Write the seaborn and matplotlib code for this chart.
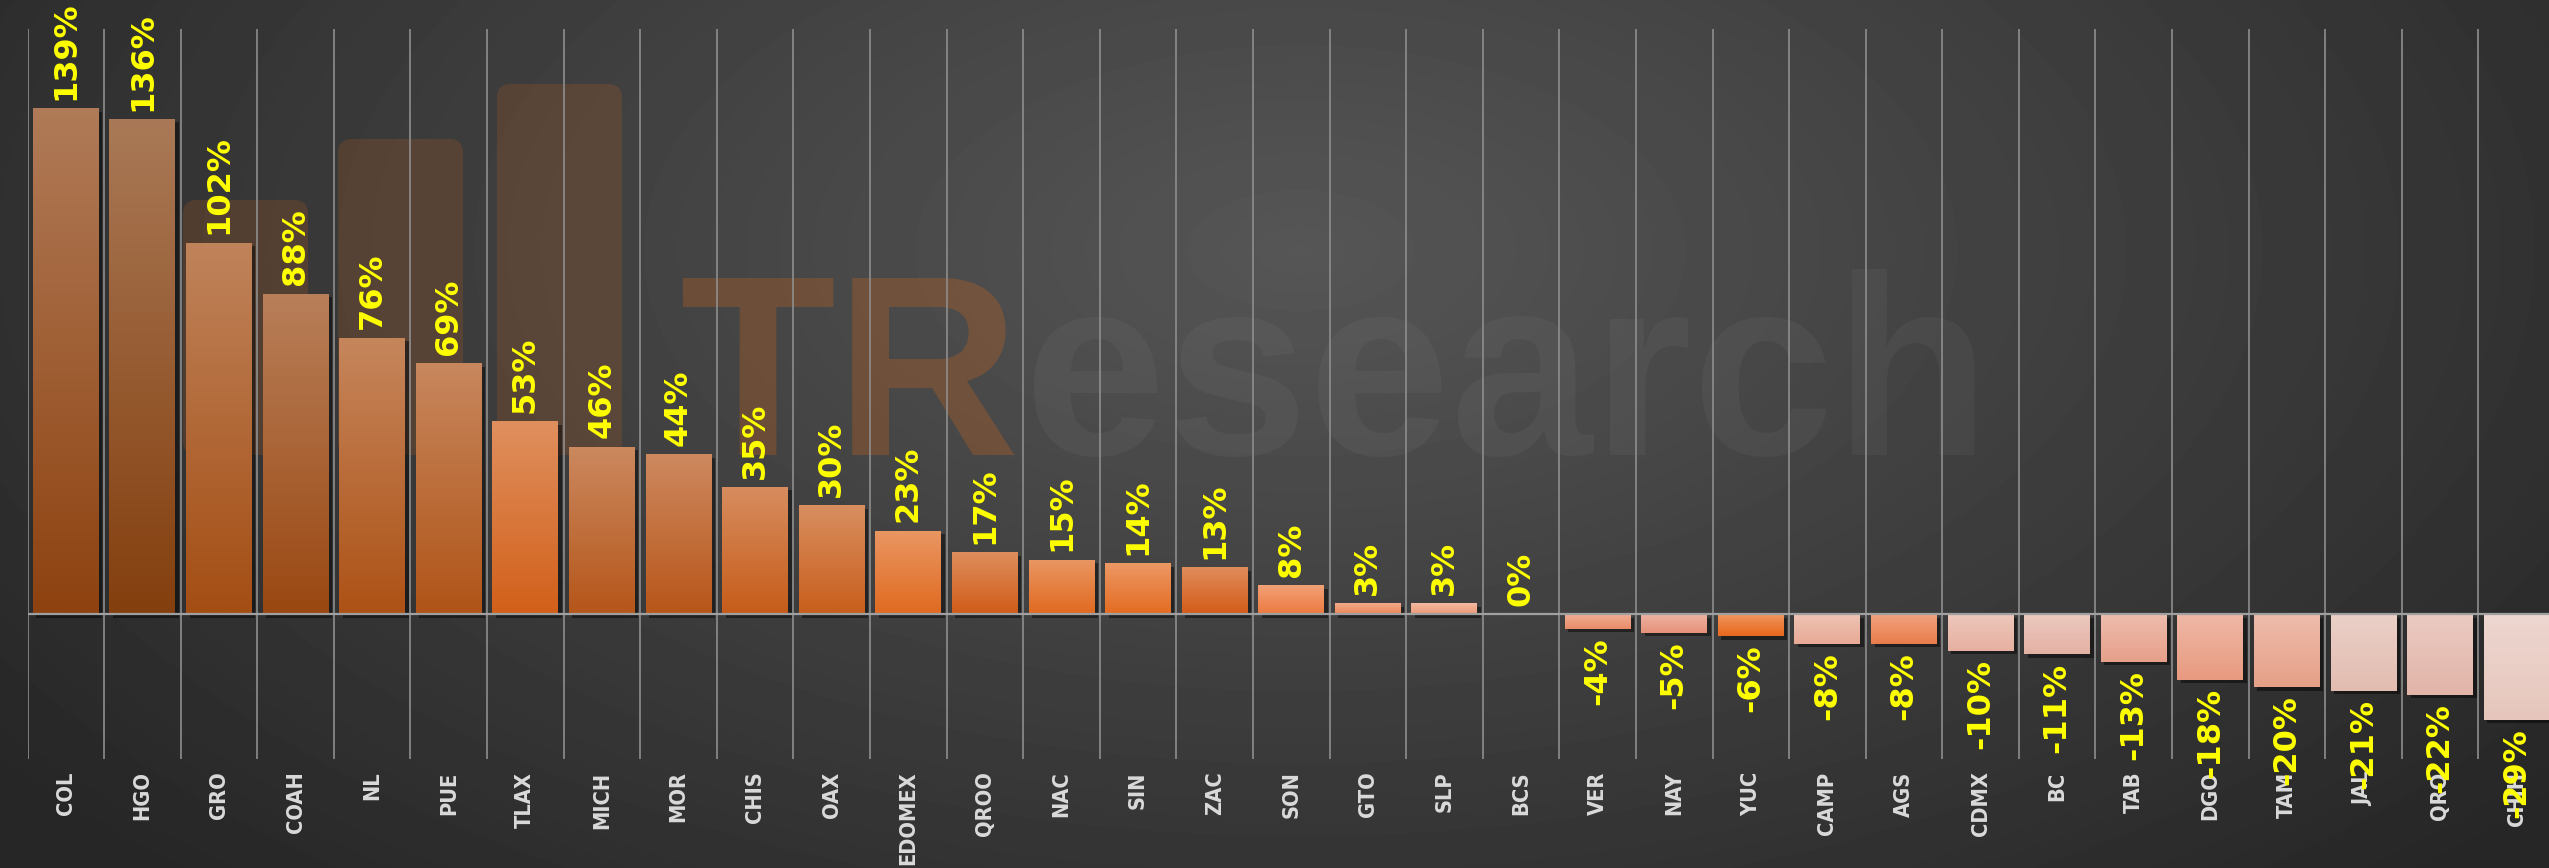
import numpy as np
import matplotlib
matplotlib.use("Agg")
import matplotlib.pyplot as plt
import matplotlib.patheffects as pe
from matplotlib import font_manager as fm
from matplotlib.colors import to_rgb
from matplotlib.patches import FancyBboxPatch
import seaborn as sns

# datos por estado (variacion %)
states = ["COL", "HGO", "GRO", "COAH", "NL", "PUE", "TLAX", "MICH", "MOR", "CHIS", "OAX",
          "EDOMEX", "QROO", "NAC", "SIN", "ZAC", "SON", "GTO", "SLP", "BCS", "VER", "NAY",
          "YUC", "CAMP", "AGS", "CDMX", "BC", "TAB", "DGO", "TAM", "JAL", "QRO", "CHIH"]
values = [139, 136, 102, 88, 76, 69, 53, 46, 44, 35, 30, 23, 17, 15, 14, 13, 8, 3, 3, 0,
          -4, -5, -6, -8, -8, -10, -11, -13, -18, -20, -21, -22, -29]

bar_colors = ["#8e4210", "#843f0e", "#a44e14", "#9a4812", "#ad5216", "#b05418", "#d2601a",
              "#b5561a", "#b8561a", "#c65c1a", "#c85e1c", "#e06a20", "#d05c18", "#e06a20",
              "#e46c22", "#d35c18", "#ec7a40", "#ec8658", "#ee9a78", "#ee9a78", "#ea8c68",
              "#e6927a", "#e8681a", "#e8aa95", "#ea7c4a", "#e6b0a0", "#e4b2a4", "#e6a08a",
              "#e89a80", "#e6a088", "#e2bcb0", "#e2b4a8", "#e6c6bc"]

W, H = 2549, 868
plt.rcParams["font.family"] = ["DejaVu Sans"]

# fuente angosta para los estados, si existe
tick_font = fm.FontProperties(family="DejaVu Sans", stretch="condensed", weight="bold", size=19)
if "ondensed" not in fm.findfont(tick_font):
    names = sorted({f.name for f in fm.fontManager.ttflist if "Narrow" in f.name or "Condensed" in f.name})
    if names:
        tick_font = fm.FontProperties(family=names[0], weight="bold", size=19)
    else:
        tick_font = fm.FontProperties(family="DejaVu Sans", weight="bold", size=19)

fig = plt.figure(figsize=(W / 100, H / 100), dpi=100)

# fondo gris con degradado radial + marca de agua
bg = fig.add_axes([0, 0, 1, 1], zorder=0)
yy, xx = np.mgrid[0:H, 0:W]
r = np.sqrt(((xx - 1300) / 1500) ** 2 + ((yy - 250) / 800) ** 2)
shade = np.clip(86 - 44 * r, 38, 86) / 255
bg.imshow(shade, cmap="gray", vmin=0, vmax=1, extent=(0, W, H, 0), aspect="auto")
for x0, y0 in [(183, 200), (338, 139), (497, 84)]:
    bg.add_patch(FancyBboxPatch((x0, y0), 125, 455 - y0, boxstyle="round,pad=0,rounding_size=14",
                                fc="#c8641e", ec="none", alpha=0.2))
bg.text(679, 455, "TR", fontsize=184, fontweight="bold", family=["Liberation Sans", "DejaVu Sans"],
        color="#c8641e", alpha=0.3, va="baseline", ha="left")
bg.text(1024, 455, "esearch", fontsize=184, fontweight="bold", family=["Liberation Sans", "DejaVu Sans"],
        color="white", alpha=0.04, va="baseline", ha="left")
bg.set_xlim(0, W)
bg.set_ylim(H, 0)
bg.axis("off")

ax = fig.add_axes([27.5 / W, (H - 759) / H, (2555 - 27.5) / W, (759 - 29) / H], zorder=1)
ax.patch.set_alpha(0)

sns.barplot(x=states, y=values, hue=states, palette=bar_colors, legend=False,
            width=0.86, saturation=1, ax=ax, zorder=2)

# degradado vertical en cada barra
t = np.linspace(0, 1, 64)[:, None]
for p in ax.patches:
    x0, w = p.get_x(), p.get_width()
    y0, h = p.get_y(), p.get_height()
    lo, hi = min(y0, y0 + h), max(y0, y0 + h)
    if hi - lo <= 0:
        p.set_visible(False)
        continue
    base = np.array(to_rgb(p.get_facecolor()))
    top = base + (1 - base) * 0.3
    grad = (base * (1 - t) + top * t)[:, None, :]
    im = ax.imshow(grad, extent=(x0, x0 + w, lo, hi), origin="lower", aspect="auto",
                   zorder=2.5, interpolation="bilinear")
    im.set_clip_path(p)
    p.set_path_effects([pe.SimplePatchShadow(offset=(2.5, -2.5), shadow_rgbFace="black", alpha=0.45),
                        pe.Normal()])

for i, v in enumerate(values):
    ax.annotate(f"{v}%", (i, v), xytext=(0, 6 if v >= 0 else -6), textcoords="offset points",
                rotation=90, ha="center", va="bottom" if v >= 0 else "top",
                color="#ffff00", fontsize=23, fontweight="bold", zorder=5)

ax.vlines(np.arange(len(states)) - 0.5, -39.7, 160.7, colors="#8e8e8e", lw=1.2, zorder=1)
ax.axhline(0, color="#a0a0a0", lw=1.6, zorder=3)

ax.set_xlim(-0.5, len(states) - 0.5)
ax.set_ylim(-39.7, 160.7)
ax.set_yticks([])
for s in ax.spines.values():
    s.set_visible(False)
ax.set_xticks(range(len(states)))
ax.set_xticklabels(states, rotation=90, color="#dadada", fontproperties=tick_font)
ax.tick_params(axis="x", length=0, pad=9)
ax.set_xlabel("")
ax.set_ylabel("")

# ajustar tamano para que la etiqueta mas larga quepa (~94 px)
fig.canvas.draw()
rend = fig.canvas.get_renderer()
longest = max(lab.get_window_extent(rend).height for lab in ax.get_xticklabels())
new_size = tick_font.get_size_in_points() * 94 / longest
for lab in ax.get_xticklabels():
    lab.set_fontsize(new_size)

fig.savefig("out.png", dpi=100)
